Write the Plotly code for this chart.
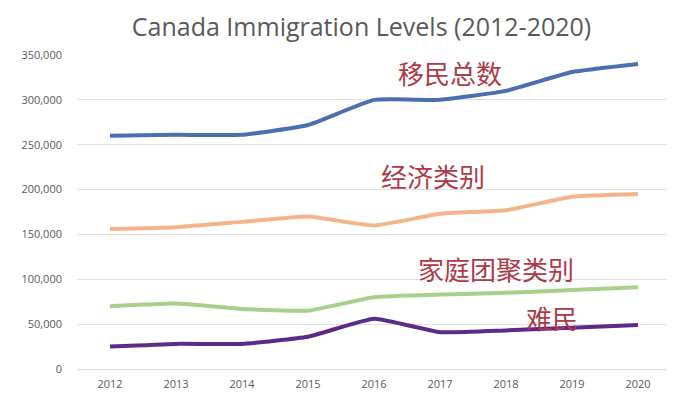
import plotly.graph_objects as go

years = [2012, 2013, 2014, 2015, 2016, 2017, 2018, 2019, 2020]
total = [260000, 261000, 261000, 272000, 300000, 300000, 310000, 331000, 340000]
economic = [156000, 158000, 164000, 170000, 160000, 173000, 177000, 192000, 195000]
family = [70000, 73000, 67000, 65000, 80000, 83000, 85000, 88000, 91000]
refugee = [25000, 28000, 28000, 36000, 56000, 41000, 43000, 46000, 49000]

series = [
    ("移民总数", total, "#4a6fb0", 2017.15, 331000),
    ("经济类别", economic, "#f2b58a", 2016.9, 216000),
    ("家庭团聚类别", family, "#a8cf8c", 2017.85, 112000),
    ("难民", refugee, "#5e2a8a", 2018.7, 57500),
]

fig = go.Figure()
annotations = []
for name, vals, color, ax, ay in series:
    fig.add_trace(go.Scatter(x=years, y=vals, mode="lines", name=name,
                             line=dict(color=color, width=4, shape="spline", smoothing=0.4)))
    annotations.append(dict(x=ax, y=ay, xref="x", yref="y", text=name, showarrow=False,
                            font=dict(family="Noto Sans CJK SC", size=26, color="#ad3a46")))

fig.update_layout(
    width=667, height=387,
    margin=dict(l=69, r=4, t=47, b=23),
    paper_bgcolor="white", plot_bgcolor="white",
    showlegend=False,
    title=dict(text="Canada Immigration Levels (2012-2020)", x=0.53, xanchor="center",
               y=0.95, yanchor="middle",
               font=dict(family="Open Sans", size=25, color="#595959")),
    annotations=annotations,
    xaxis=dict(range=[2011.5, 2020.5], tickmode="array", tickvals=years,
               ticktext=[str(y) for y in years], showgrid=False, zeroline=False,
               showline=False, ticks="", ticklabelstandoff=7,
               tickfont=dict(family="Open Sans", size=11, color="#595959")),
    yaxis=dict(range=[0, 350000], tickvals=[0, 50000, 100000, 150000, 200000, 250000, 300000, 350000],
               tickformat=",", showgrid=True, gridcolor="#e0e0e0", gridwidth=1,
               zeroline=True, zerolinecolor="#d9d9d9", zerolinewidth=1,
               ticks="", ticklabelstandoff=14,
               tickfont=dict(family="Open Sans", size=11, color="#595959")),
)

fig.write_html("out.html")
